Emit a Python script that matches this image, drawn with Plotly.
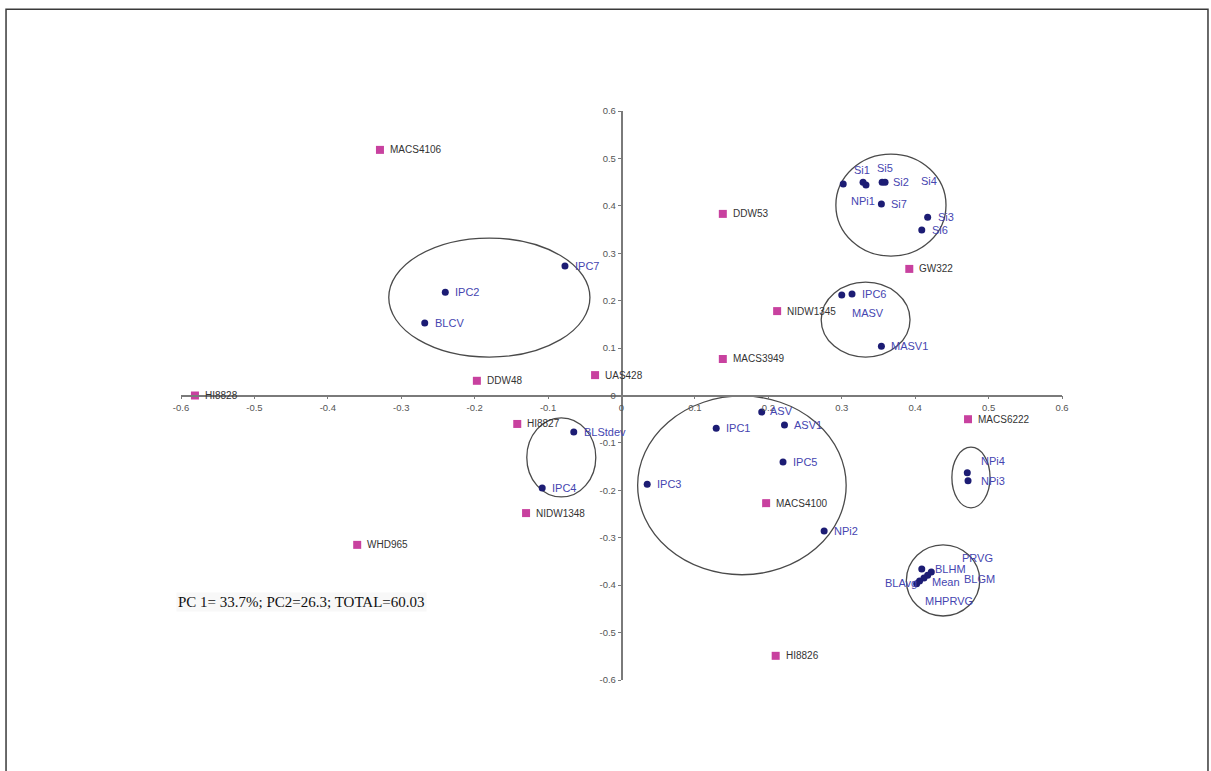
import plotly.graph_objects as go

# ---------------- data ----------------
geno_names = ["MACS4106", "DDW53", "GW322", "NIDW1345", "MACS3949", "UAS428", "DDW48",
              "HI8828", "HI8827", "MACS6222", "NIDW1348", "MACS4100", "WHD965", "HI8826"]
geno_pc1 = [-0.329, 0.138, 0.392, 0.212, 0.138, -0.036, -0.197,
            -0.581, -0.142, 0.472, -0.130, 0.197, -0.360, 0.210]
geno_pc2 = [0.518, 0.383, 0.267, 0.178, 0.077, 0.043, 0.031,
            0.000, -0.060, -0.050, -0.248, -0.227, -0.315, -0.549]

trait_names = ["IPC7", "IPC2", "BLCV", "BLStdev", "IPC4", "IPC3", "IPC1", "ASV", "ASV1",
               "IPC5", "NPi2", "MASV", "IPC6", "MASV1", "Si1", "Si5", "NPi1", "Si4", "Si2",
               "Si7", "Si3", "Si6", "NPi4", "NPi3", "BLHM", "PRVG", "BLGM", "Mean",
               "MHPRVG", "BLAvg"]
trait_pc1 = [-0.077, -0.240, -0.268, -0.065, -0.108, 0.035, 0.129, 0.191, 0.222,
             0.220, 0.276, 0.300, 0.314, 0.354, 0.302, 0.329, 0.333, 0.355, 0.359,
             0.354, 0.417, 0.409, 0.471, 0.472, 0.409, 0.422, 0.417, 0.412,
             0.406, 0.402]
trait_pc2 = [0.273, 0.218, 0.153, -0.077, -0.195, -0.187, -0.069, -0.035, -0.062,
             -0.140, -0.286, 0.212, 0.214, 0.104, 0.446, 0.450, 0.444, 0.450, 0.450,
             0.404, 0.376, 0.349, -0.163, -0.180, -0.366, -0.372, -0.379, -0.385,
             -0.391, -0.397]

# cluster ellipses (x0, x1, y0, y1) in PC units
clusters = [(-0.317, -0.043, 0.081, 0.332),
            (0.292, 0.442, 0.294, 0.509),
            (0.272, 0.393, 0.081, 0.239),
            (0.022, 0.306, -0.378, -0.001),
            (-0.129, -0.035, -0.214, -0.047),
            (0.450, 0.502, -0.237, -0.109),
            (0.388, 0.488, -0.465, -0.315)]

tick_vals = [-0.6, -0.5, -0.4, -0.3, -0.2, -0.1, 0, 0.1, 0.2, 0.3, 0.4, 0.5, 0.6]
tick_text = ["-0.6", "-0.5", "-0.4", "-0.3", "-0.2", "-0.1", "0",
             "0.1", "0.2", "0.3", "0.4", "0.5", "0.6"]

summary_text = "PC 1= 33.7%; PC2=26.3; TOTAL=60.03"

# ---------------- label offsets (pixels: dx right, dy down) ----------------
trait_offsets = {
    "ASV": (6, -1), "MASV": (8, 18), "Si1": (9, -14), "Si5": (12, -14),
    "NPi1": (-17, 16), "Si4": (37, -1), "Si2": (6, 0), "NPi4": (12, -12),
    "NPi3": (11, 0), "BLHM": (11, 0), "PRVG": (29, -14), "BLGM": (34, 4),
    "Mean": (6, 4), "MHPRVG": (3, 20),
}

fig = go.Figure()

for (x0, x1, y0, y1) in clusters:
    fig.add_shape(type="circle", xref="x", yref="y", x0=x0, x1=x1, y0=y0, y1=y1,
                  line=dict(color="#4a4a4a", width=1.3), layer="below")

fig.add_trace(go.Scatter(x=geno_pc1, y=geno_pc2, mode="markers",
                         marker=dict(symbol="square", size=8, color="#c8419f"),
                         name="Genotypes", hoverinfo="text", text=geno_names))
fig.add_trace(go.Scatter(x=trait_pc1, y=trait_pc2, mode="markers",
                         marker=dict(symbol="circle", size=7, color="#1c1c74"),
                         name="Traits", hoverinfo="text", text=trait_names))

for n, x, y in zip(geno_names, geno_pc1, geno_pc2):
    fig.add_annotation(x=x, y=y, text=n, showarrow=False, xanchor="left", yanchor="middle",
                       xshift=8, yshift=0,
                       font=dict(family="Liberation Sans, Arial", size=10, color="#333333"))

for n, x, y in zip(trait_names, trait_pc1, trait_pc2):
    if n == "BLAvg":
        fig.add_annotation(x=x, y=y, text=n, showarrow=False, xanchor="right",
                           yanchor="middle", xshift=2, yshift=1,
                           font=dict(family="Liberation Sans, Arial", size=11, color="#4545b0"))
        continue
    dx, dy = trait_offsets.get(n, (8, 0))
    fig.add_annotation(x=x, y=y, text=n, showarrow=False, xanchor="left", yanchor="middle",
                       xshift=dx, yshift=-dy,
                       font=dict(family="Liberation Sans, Arial", size=11, color="#4545b0"))

fig.add_annotation(xref="paper", yref="paper", x=-0.006, y=0.137, text=summary_text,
                   showarrow=False, xanchor="left", yanchor="middle",
                   bgcolor="#f8f8f8",
                   font=dict(family="Liberation Serif, Times New Roman", size=15, color="#111111"))

# outer frame
fig.add_shape(type="rect", xref="paper", yref="paper",
              x0=-0.1986, x1=1.1657, y0=-0.18, y1=1.179,
              line=dict(color="#3a3a3a", width=1.5), fillcolor="rgba(0,0,0,0)")

axis_common = dict(range=[-0.6, 0.6], tickvals=tick_vals, ticktext=tick_text,
                   showgrid=False, zeroline=False, showline=True,
                   linecolor="#7a7a7a", linewidth=1.5, ticks="outside", ticklen=3,
                   tickcolor="#7a7a7a",
                   tickfont=dict(family="Liberation Sans, Arial", size=9.5, color="#555555"))

fig.update_layout(
    width=1211, height=771,
    margin=dict(l=181, r=149, t=111, b=91),
    paper_bgcolor="white", plot_bgcolor="white",
    showlegend=False,
    xaxis=dict(anchor="free", position=0.5, **axis_common),
    yaxis=dict(anchor="free", position=0.5, **axis_common),
)

fig.write_html("out.html", config={"displayModeBar": False},
               post_script="document.body.style.margin='0';")
